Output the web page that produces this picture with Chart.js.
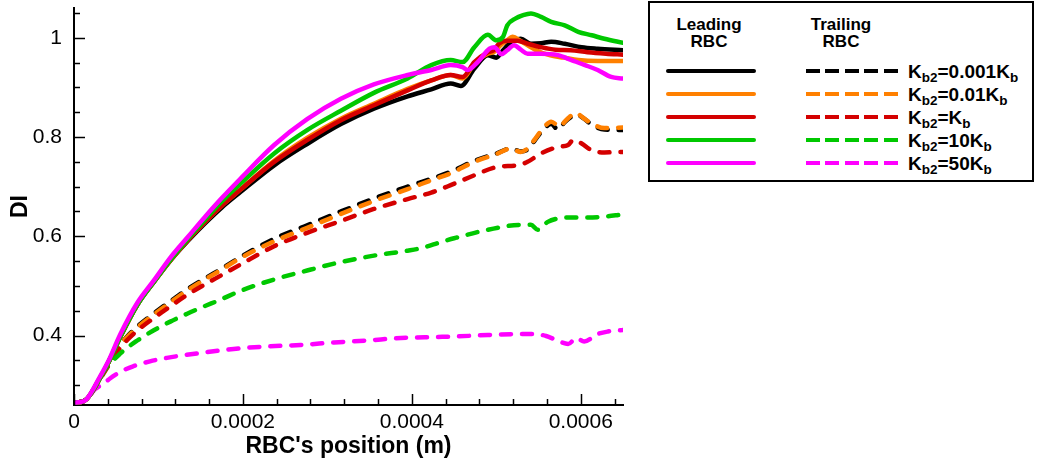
<!DOCTYPE html>
<html>
<head>
<meta charset="utf-8">
<script src="https://cdn.jsdelivr.net/npm/chart.js@4.4.0/dist/chart.umd.min.js"></script>
<style>
body{margin:0;background:#fff;font-family:"Liberation Sans",Arial,sans-serif;}
#wrap{position:relative;width:1038px;height:466px;}
#legend{position:absolute;left:648px;top:1px;width:382px;height:177px;border:2px solid #000;background:#fff;font-weight:bold;color:#000;}
.head{position:absolute;width:100px;text-align:center;font-size:17px;line-height:17px;}
.smp{position:absolute;height:4px;}
.lab{position:absolute;left:258px;font-size:19px;line-height:19px;white-space:nowrap;}
.lab sub{font-size:13.5px;vertical-align:-4px;line-height:0;}
</style>
</head>
<body>
<div id="wrap">
  <canvas id="di-chart" width="1038" height="466"></canvas>
  <div id="legend">
    <div class="head" style="left:9px;top:13px">Leading<br>RBC</div>
    <div class="head" style="left:141px;top:13px">Trailing<br>RBC</div>
  </div>
</div>
<script>
// x in micrometres, y = DI
const kb2Values = ['0.001', '0.01', '', '10', '50'];

const lead0001 = [[0,0.265],[8,0.266],[15,0.272],[22,0.288],[30,0.312],[40,0.343],[55,0.398],[75,0.462],[95,0.509],[115,0.553],[135,0.591],[155,0.626],[175,0.658],[197,0.689],[237,0.743],[276,0.786],[316,0.826],[355,0.857],[395,0.882],[423,0.896],[446,0.908],[458,0.903],[474,0.938],[490,0.965],[500,0.960],[508,0.975],[518,0.992],[529,0.998],[541,0.988],[553,0.989],[565,0.992],[581,0.988],[601,0.981],[620,0.978],[650,0.975]];
const lead001 = [[0,0.265],[8,0.266],[15,0.272],[22,0.288],[30,0.312],[40,0.343],[55,0.398],[75,0.462],[95,0.509],[115,0.553],[135,0.593],[155,0.629],[175,0.662],[197,0.694],[237,0.752],[276,0.798],[316,0.837],[355,0.867],[395,0.897],[423,0.914],[446,0.925],[460,0.918],[474,0.948],[490,0.968],[497,0.971],[505,0.985],[513,0.995],[519,1.002],[530,0.992],[547,0.975],[563,0.965],[580,0.960],[597,0.955],[620,0.953],[650,0.953]];
const lead1 = [[0,0.265],[8,0.266],[15,0.272],[22,0.288],[30,0.312],[40,0.343],[55,0.398],[75,0.462],[95,0.509],[115,0.553],[135,0.593],[155,0.629],[175,0.662],[197,0.694],[237,0.750],[276,0.794],[316,0.834],[355,0.864],[395,0.894],[423,0.914],[446,0.925],[460,0.921],[474,0.951],[490,0.971],[497,0.975],[503,0.988],[513,0.994],[525,0.994],[537,0.988],[553,0.981],[570,0.976],[588,0.975],[608,0.971],[630,0.968],[650,0.966]];
const lead10 = [[0,0.265],[8,0.266],[15,0.272],[22,0.288],[30,0.312],[40,0.343],[55,0.398],[75,0.462],[95,0.509],[115,0.554],[135,0.595],[155,0.633],[175,0.670],[197,0.706],[237,0.767],[276,0.814],[316,0.853],[355,0.889],[395,0.918],[423,0.945],[446,0.955],[460,0.951],[474,0.981],[490,1.006],[500,0.995],[508,1.002],[513,1.025],[523,1.039],[531,1.045],[541,1.049],[553,1.042],[565,1.032],[581,1.025],[597,1.012],[613,1.005],[628,0.998],[650,0.990]];
const lead50 = [[0,0.265],[8,0.266],[15,0.272],[22,0.290],[30,0.315],[40,0.346],[55,0.403],[75,0.466],[95,0.512],[115,0.559],[135,0.599],[155,0.639],[175,0.677],[197,0.716],[237,0.784],[276,0.836],[316,0.877],[355,0.906],[395,0.925],[423,0.935],[446,0.945],[460,0.941],[466,0.935],[478,0.951],[492,0.978],[498,0.981],[506,0.967],[513,0.975],[521,0.985],[529,0.976],[537,0.968],[553,0.968],[573,0.965],[589,0.955],[605,0.945],[620,0.935],[636,0.921],[650,0.918]];

const trail0001 = [[0,0.265],[8,0.266],[15,0.272],[22,0.288],[30,0.312],[40,0.340],[47,0.360],[55,0.382],[63,0.398],[75,0.418],[95,0.445],[115,0.470],[135,0.494],[155,0.515],[175,0.535],[197,0.558],[237,0.595],[276,0.622],[316,0.650],[355,0.676],[395,0.700],[423,0.716],[446,0.730],[474,0.752],[502,0.768],[517,0.777],[529,0.771],[537,0.775],[545,0.792],[557,0.818],[565,0.826],[573,0.815],[581,0.830],[589,0.841],[596,0.845],[603,0.838],[613,0.825],[628,0.815],[650,0.814]];
const trail001 = [[0,0.265],[8,0.266],[15,0.272],[22,0.288],[30,0.312],[40,0.340],[47,0.360],[55,0.382],[63,0.397],[75,0.416],[95,0.443],[115,0.468],[135,0.492],[155,0.513],[175,0.533],[197,0.556],[237,0.590],[276,0.617],[316,0.645],[355,0.671],[395,0.695],[423,0.713],[446,0.727],[474,0.750],[502,0.767],[517,0.777],[529,0.770],[537,0.777],[545,0.794],[557,0.821],[565,0.831],[575,0.821],[581,0.831],[587,0.841],[595,0.849],[601,0.841],[613,0.827],[628,0.818],[650,0.819]];
const trail1 = [[0,0.265],[8,0.266],[15,0.272],[22,0.288],[30,0.310],[40,0.337],[47,0.355],[55,0.376],[63,0.391],[75,0.410],[95,0.436],[115,0.460],[135,0.483],[155,0.503],[175,0.522],[197,0.543],[237,0.580],[276,0.607],[316,0.631],[355,0.655],[395,0.675],[423,0.688],[446,0.703],[474,0.723],[502,0.740],[525,0.743],[537,0.750],[553,0.767],[573,0.780],[585,0.784],[591,0.794],[601,0.787],[612,0.774],[628,0.769],[650,0.770]];
const trail10 = [[0,0.265],[8,0.266],[15,0.272],[22,0.288],[28,0.305],[35,0.327],[55,0.364],[75,0.390],[94,0.410],[114,0.428],[134,0.444],[153,0.458],[173,0.472],[197,0.490],[237,0.513],[276,0.531],[316,0.548],[355,0.561],[395,0.571],[411,0.576],[434,0.588],[450,0.596],[490,0.613],[529,0.623],[541,0.623],[549,0.613],[561,0.629],[573,0.636],[589,0.638],[605,0.638],[624,0.639],[650,0.644]];
const trail50 = [[0,0.265],[8,0.266],[15,0.272],[20,0.282],[25,0.292],[35,0.303],[43,0.314],[55,0.327],[70,0.338],[90,0.348],[110,0.355],[150,0.365],[189,0.373],[229,0.378],[268,0.381],[308,0.386],[347,0.390],[387,0.395],[427,0.397],[450,0.398],[490,0.401],[529,0.403],[545,0.403],[559,0.399],[571,0.391],[585,0.383],[595,0.395],[604,0.388],[620,0.403],[632,0.408],[650,0.411]];

const leadingSeries = [lead0001, lead001, lead1, lead10, lead50];
const trailingSeries = [trail0001, trail001, trail1, trail10, trail50];
const lineColors = ['#000000', '#ff8000', '#d40000', '#00c800', '#ff00ff'];

const UM = 1e-6;
function toPoints(arr){
    return arr.map(p => ({x: p[0] * UM, y: p[1]}));
}

// legend (html)
const legendBox = document.getElementById('legend');
const rowTops = [68, 91, 114, 137, 160];
for(let i = 0; i < lineColors.length; i++){
    const solid = document.createElement('div');
    solid.className = 'smp';
    solid.style.left = '16px';
    solid.style.width = '90px';
    solid.style.top = (rowTops[i] - 2) + 'px';
    solid.style.background = lineColors[i];
    solid.style.borderRadius = '2px';
    legendBox.appendChild(solid);

    const dash = document.createElement('div');
    dash.className = 'smp';
    dash.style.left = '156px';
    dash.style.width = '92px';
    dash.style.top = (rowTops[i] - 2) + 'px';
    dash.style.background = 'repeating-linear-gradient(90deg,' + lineColors[i] + ' 0 14px, transparent 14px 19.4px)';
    legendBox.appendChild(dash);

    const lab = document.createElement('div');
    lab.className = 'lab';
    lab.style.top = (rowTops[i] - 9) + 'px';
    lab.innerHTML = 'K<sub>b2</sub>=' + kb2Values[i] + 'K<sub>b</sub>';
    legendBox.appendChild(lab);
}

const datasets = [];
// solid on top, magenta topmost
for(let i = 0; i < leadingSeries.length; i++){
    datasets.push({
        data: toPoints(leadingSeries[i]),
        borderColor: lineColors[i],
        borderWidth: 4.5,
        pointRadius: 0,
        cubicInterpolationMode: 'monotone',
        borderJoinStyle: 'round',
        borderCapStyle: 'round',
        order: 10 - i
    });
}
for(let i = 0; i < trailingSeries.length; i++){
    datasets.push({
        data: toPoints(trailingSeries[i]),
        borderColor: lineColors[i],
        borderWidth: 4.5,
        borderDash: [10, 11],
        borderCapStyle: 'round',
        pointRadius: 0,
        cubicInterpolationMode: 'monotone',
        order: 20 - i
    });
}

function isMajor(v, step){
    const r = v / step;
    return Math.abs(r - Math.round(r)) < 1e-6;
}

const inwardTicks = {
    id: 'inwardTicks',
    afterDraw(chart){
        const ctx = chart.ctx;
        const xs = chart.scales.x, ys = chart.scales.y;
        const area = chart.chartArea;
        ctx.save();
        ctx.strokeStyle = '#000';
        ctx.lineWidth = 1.5;
        xs.ticks.forEach(t => {
            const px = Math.round(xs.getPixelForValue(t.value)) + 0.5;
            const len = isMajor(t.value, 0.0002) ? 11 : 6;
            ctx.beginPath();
            ctx.moveTo(px, area.bottom);
            ctx.lineTo(px, area.bottom - len);
            ctx.stroke();
        });
        ys.ticks.forEach(t => {
            const py = Math.round(ys.getPixelForValue(t.value)) + 0.5;
            const len = isMajor(t.value, 0.2) ? 11 : 6;
            ctx.beginPath();
            ctx.moveTo(area.left, py);
            ctx.lineTo(area.left + len, py);
            ctx.stroke();
        });
        ctx.restore();
    }
};

new Chart(document.getElementById('di-chart'), {
    type: 'line',
    data: {datasets: datasets},
    options: {
        responsive: false,
        devicePixelRatio: 1,
        animation: false,
        layout: {padding: {top: 8, right: 415, left: 0, bottom: 0}},
        plugins: {legend: {display: false}, tooltip: {enabled: false}},
        scales: {
            x: {
                type: 'linear',
                min: 0,
                max: 0.00065,
                grid: {display: false, drawTicks: false},
                border: {display: true, color: '#000', width: 2},
                afterBuildTicks: function(scale){
                    const t = [];
                    for(let i = 0; i <= 16; i++) t.push({value: i * 0.00004});
                    scale.ticks = t;
                },
                afterFit: function(scale){
                    scale.height = 61;
                    scale.paddingLeft = 0;
                    scale.paddingRight = 0;
                },
                ticks: {
                    color: '#000',
                    padding: 5,
                    maxRotation: 0,
                    autoSkip: false,
                    font: {family: 'Liberation Sans', size: 21},
                    callback: function(v){
                        if(!isMajor(v, 0.0002)) return '';
                        return v == 0 ? '0' : v.toFixed(4);
                    }
                },
                title: {
                    display: true,
                    text: "RBC's position (m)",
                    color: '#000',
                    padding: {top: 0, bottom: 6},
                    font: {family: 'Liberation Sans', size: 23, weight: 'bold'}
                }
            },
            y: {
                min: 0.26,
                max: 1.06,
                grid: {display: false, drawTicks: false},
                border: {display: true, color: '#000', width: 2},
                afterBuildTicks: function(scale){
                    const t = [];
                    for(let i = 6; i <= 21; i++) t.push({value: i * 0.05});
                    scale.ticks = t;
                },
                afterFit: function(scale){
                    scale.width = 74;
                    scale.paddingTop = 0;
                    scale.paddingBottom = 0;
                },
                ticks: {
                    color: '#000',
                    padding: 12,
                    autoSkip: false,
                    font: {family: 'Liberation Sans', size: 21},
                    callback: function(v){
                        if(!isMajor(v, 0.2)) return '';
                        return String(Math.round(v * 10) / 10);
                    }
                },
                title: {
                    display: true,
                    text: 'DI',
                    color: '#000',
                    padding: {top: 7, bottom: 0},
                    font: {family: 'Liberation Sans', size: 23, weight: 'bold'}
                }
            }
        }
    },
    plugins: [inwardTicks]
});
</script>
</body>
</html>
